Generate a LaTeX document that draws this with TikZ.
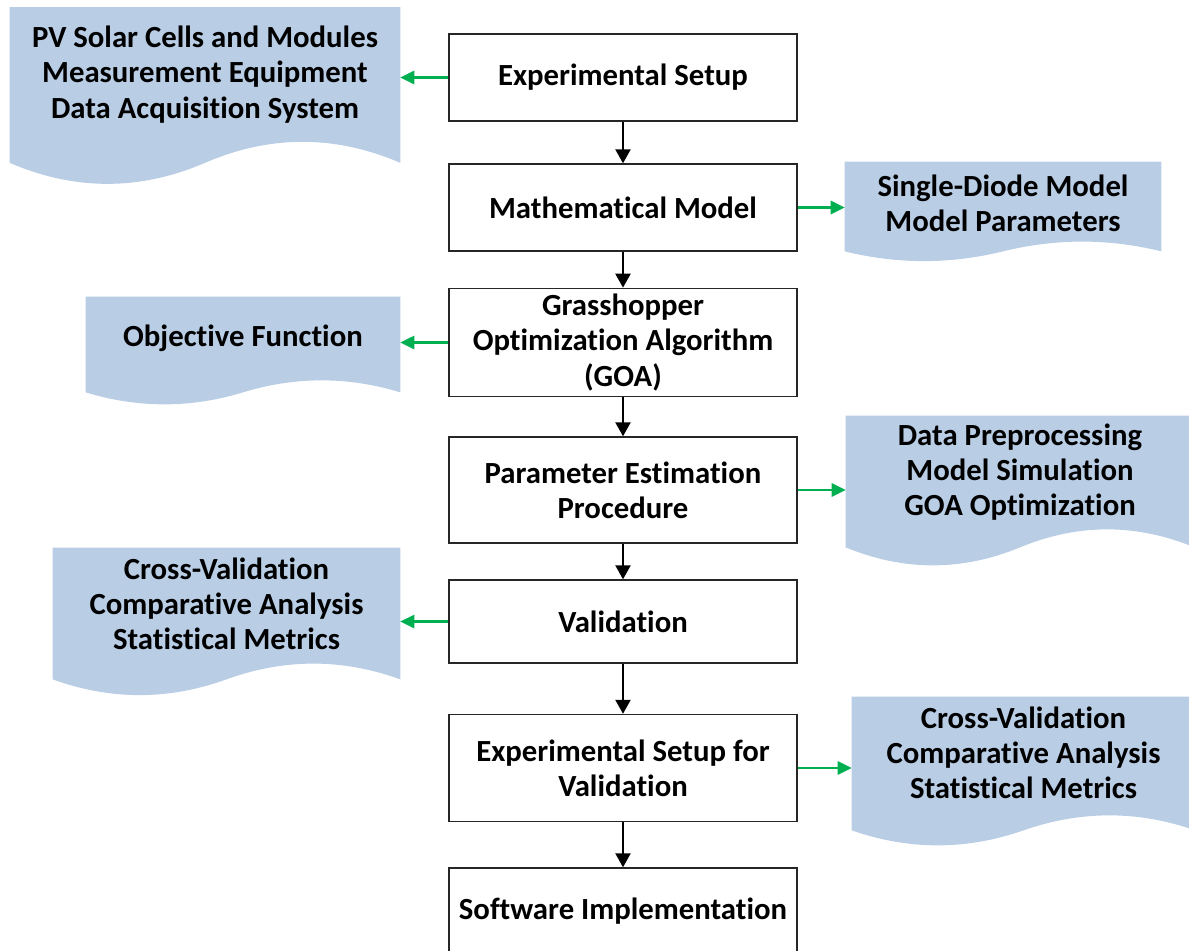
\documentclass[tikz,border=0pt]{standalone}
\usepackage{fontspec}
\setmainfont{Carlito}[Ligatures={NoCommon,NoContextual}, Contextuals=NoAlternate]
\usepackage{tikz}
\usepackage{xcolor}
\usetikzlibrary{arrows.meta,calc,backgrounds}

\definecolor{docblue}{RGB}{185,205,229}
\definecolor{arrowgreen}{RGB}{0,176,80}

\tikzset{
  stage/.style={draw=black!85, line width=0.8pt, fill=white, minimum width=6.96cm,
                align=center, font=\fontsize{17.5}{20}\selectfont\bfseries},
  doc/.style={align=center, inner sep=0pt, font=\fontsize{17.5}{20}\selectfont\bfseries},
  flow/.style={line width=1.5pt, -{Triangle[length=8pt,width=8.5pt]}},
  side/.style={arrowgreen, line width=1.4pt, -{Triangle[length=8pt,width=7.5pt]}}
}

% fill a document shape under a text node: #1 node, #2 drop, #3 wave (px)
\newcommand\docwave[3]{%
  \fill[docblue] let \p1=(#1.south west), \p2=(#1.north east) in
    (\x1,\y2) -- (\x2,\y2) -- (\x2,{\y1-#2*0.02cm})
    .. controls ({\x2-(\x2-\x1)/6},{\y1-#2*0.02cm+#3*0.02cm}) and ({\x2-(\x2-\x1)/3},{\y1-#2*0.02cm+#3*0.02cm})
    .. ({(\x1+\x2)/2},{\y1-#2*0.02cm})
    .. controls ({(\x1+\x2)/2-(\x2-\x1)/6},{\y1-#2*0.02cm-#3*0.02cm}) and ({\x1+(\x2-\x1)/6},{\y1-#2*0.02cm-#3*0.02cm})
    .. (\x1,{\y1-#2*0.02cm}) -- cycle;}

\begin{document}
\begin{tikzpicture}[x=0.02cm, y=-0.02cm]

\useasboundingbox (0,0) rectangle (1189,950);

%Main stages
\node[stage, minimum height=1.74cm] (setup)    at (623,77.5)  {Experimental Setup};
\node[stage, minimum height=1.74cm] (model)    at (623,207.5) {Mathematical Model};
\node[stage, minimum height=2.14cm] (goa)      at (623,342.5) {Grasshopper\\Optimization Algorithm\\(GOA)};
\node[stage, minimum height=2.12cm] (estimate) at (623,490)   {Parameter Estimation\\Procedure};
\node[stage, minimum height=1.66cm] (valid)    at (623,621.5) {Validation};
\node[stage, minimum height=2.14cm] (setupval) at (623,768)   {Experimental Setup for\\Validation};
\node[stage, minimum height=1.74cm] (software) at (623,911.5) {Software Implementation};

%Side documents
\node[doc, minimum width=7.8cm,  minimum height=2.68cm] (equip)  at (205,74.5)  {PV Solar Cells and Modules\\Measurement Equipment\\Data Acquisition System};
\node[doc, minimum width=6.32cm, minimum height=1.64cm] (diode)  at (1003,203)  {Single-Diode Model\\Model Parameters};
\node[doc, minimum width=6.28cm, minimum height=1.64cm] (objfun) at (243,338)   {Objective Function};
\node[doc, minimum width=6.96cm, minimum height=2.24cm] (steps)  at (1020,472)  {Data Preprocessing\\Model Simulation\\GOA Optimization};
\node[doc, minimum width=6.94cm, minimum height=2.24cm] (checkA) at (226.5,604) {Cross-Validation\\Comparative Analysis\\Statistical Metrics};
\node[doc, minimum width=6.86cm, minimum height=2.24cm] (checkB) at (1023.5,753) {Cross-Validation\\Comparative Analysis\\Statistical Metrics};

\begin{scope}[on background layer]
  \docwave{equip}{21}{28}
  \docwave{diode}{7}{13}
  \docwave{objfun}{13}{16}
  \docwave{steps}{19}{24}
  \docwave{checkA}{19}{21}
  \docwave{checkB}{21}{20}
\end{scope}

%Flow down
\draw[flow] (setup) -- (model);
\draw[flow] (model) -- (goa);
\draw[flow] (goa) -- (estimate);
\draw[flow] (estimate) -- (valid);
\draw[flow] (valid) -- (setupval);
\draw[flow] (setupval) -- (software);

%Links to documents
\draw[side] (setup.west)    -- (setup.west -| equip.east);
\draw[side] (model.east)    -- (model.east -| diode.west);
\draw[side] (goa.west)      -- (goa.west -| objfun.east);
\draw[side] (estimate.east) -- (estimate.east -| steps.west);
\draw[side] (valid.west)    -- (valid.west -| checkA.east);
\draw[side] (setupval.east) -- (setupval.east -| checkB.west);

\end{tikzpicture}
\end{document}
